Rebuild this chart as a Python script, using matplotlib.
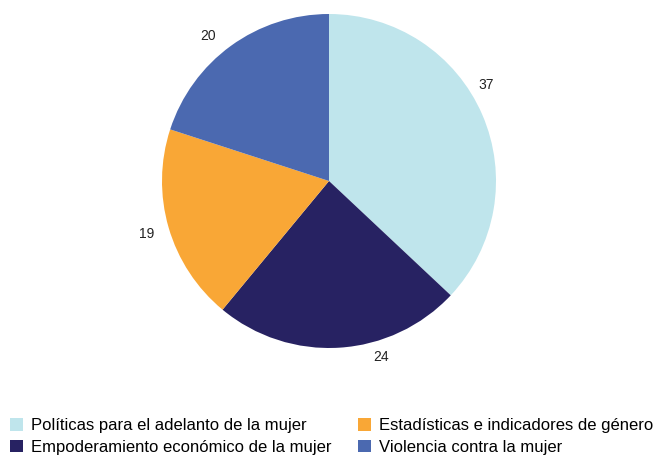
import numpy as np
import matplotlib.pyplot as plt

plt.rcParams['font.family'] = ['Liberation Sans', 'DejaVu Sans']

# Data
categories = ["Políticas para el adelanto de la mujer",
              "Empoderamiento económico de la mujer",
              "Estadísticas e indicadores de género",
              "Violencia contra la mujer"]
values = [37, 24, 19, 20]
colors = ["#bfe5ec", "#272262", "#f9a736", "#4b69b0"]

# label placement tweaks (degrees shifted from slice middle, radial distance)
label_shift = [8, 13, 0, 4]
label_dist = [1.10, 1.10, 1.14, 1.13]

fig = plt.figure(figsize=(6.68, 4.55), dpi=100)
ax = fig.add_axes([162 / 668, 107 / 455, 334 / 668, 334 / 455])

wedges, _ = ax.pie(values, colors=colors, startangle=90, counterclock=False)
for w, v, s, d in zip(wedges, values, label_shift, label_dist):
    ang = np.deg2rad((w.theta1 + w.theta2) / 2 + s)
    ax.text(d * np.cos(ang), d * np.sin(ang), str(v), ha='center', va='center',
            fontsize=10, color='#222222')
ax.set_xlim(-1, 1)
ax.set_ylim(-1, 1)
ax.set_aspect('equal')

fig.legend(wedges, categories, ncol=2, loc='lower left',
           bbox_to_anchor=(0.0075, -0.011), frameon=False, fontsize=12,
           handlelength=0.75, handleheight=0.75, handletextpad=0.5,
           columnspacing=1.6, labelspacing=0.4, borderaxespad=0.0,
           borderpad=0.3)

fig.savefig("out.png", dpi=100)
